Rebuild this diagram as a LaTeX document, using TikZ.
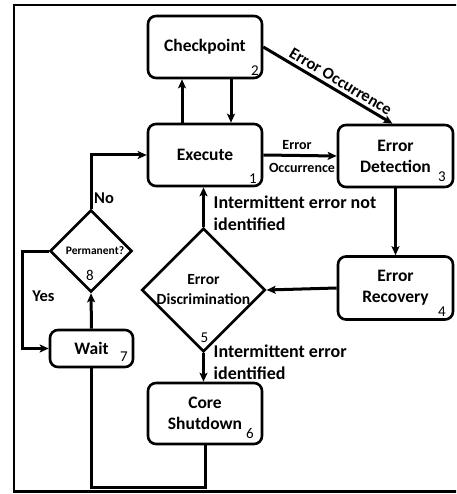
\documentclass[tikz,border=0pt]{standalone}
\usepackage{fontspec}
\setmainfont{Carlito}
\usetikzlibrary{shapes.geometric,arrows.meta,calc}
\tikzset{
  stepbox/.style={draw, line width=2.6pt, rounded corners=8pt, inner sep=0pt,
    align=center, font=\fontsize{17.5}{21}\selectfont\bfseries},
  decision/.style={draw, diamond, line width=2.6pt, inner sep=0pt, aspect=1,
    align=center},
  arr/.style={line width=3pt, -{Stealth[length=9pt,width=8pt,inset=2pt]}},
  plain/.style={line width=3pt},
  num/.style={font=\fontsize{15}{15}\selectfont, inner sep=0pt},
  lbl/.style={font=\fontsize{14}{17}\selectfont\bfseries, inner sep=0pt},
  side/.style={font=\fontsize{16.5}{21}\selectfont\bfseries, inner sep=0pt, align=left},
  note/.style={font=\fontsize{18}{21.5}\selectfont\bfseries, inner sep=0pt, align=left}
}
\begin{document}
\begin{tikzpicture}[x=1pt,y=-1pt]
\useasboundingbox (0,0) rectangle (456,494);
\clip (0,0) rectangle (456,494);
% outer frame
\draw[line width=2.2pt] (14,5) rectangle (470,491.5);

% process steps
\node[stepbox, minimum width=114pt, minimum height=62pt] (chk) at (205,47) {Checkpoint};
\node[stepbox, minimum width=114pt, minimum height=62pt] (exe) at (205,155) {Execute};
\node[stepbox, minimum width=115pt, minimum height=62pt] (det) at (395.5,156) {Error\\Detection};
\node[stepbox, minimum width=115pt, minimum height=63pt] (rec) at (395.5,288) {Error\\Recovery};
\node[stepbox, minimum width=114pt, minimum height=61pt] (shut) at (205,413.5) {Core\\Shutdown};
\node[stepbox, minimum width=83pt, minimum height=37pt] (wait) at (91.5,348.5) {Wait};

% decisions
\node[decision, minimum width=122pt, minimum height=122pt,
  font=\fontsize{15.5}{20}\selectfont\bfseries] (disc) at (203.5,290) {Error\\Discrimination};
\node[decision, minimum width=82pt, minimum height=82pt] (perm) at (91,251) {};
\node[font=\fontsize{11.5}{12}\selectfont\bfseries, inner sep=0pt] (permtxt) at (95,251) {Permanent?};

% step numbers
\node[num] (n1) at (253,179) {1};
\node[num] (n2) at (255,71) {2};
\node[num] (n3) at (442,177) {3};
\node[num] (n4) at (442,312) {4};
\node[num] (n5) at (204.5,338) {5};
\node[num] (n6) at (250,433) {6};
\node[num] (n7) at (124,357) {7};
\node[num] (n8) at (90,275) {8};

% connectors
\draw[arr] ([xshift=-23pt]exe.north) -- ([xshift=-23pt]chk.south);
\draw[arr] ([xshift=26pt]chk.south) -- ([xshift=26pt]exe.north);
\draw[arr] (chk.east) -- node[sloped, above=3pt, pos=0.56, inner sep=0pt,
  font=\fontsize{16.5}{17}\selectfont\bfseries] (eo1) {Error Occurrence} ([xshift=-3pt]det.north);
\draw[arr] (exe.east) -- (det.west);
\node[lbl] (eo2) at (297,145) {Error};
\node[lbl] (eo3) at (302,168) {Occurrence};
\draw[arr] (det.south) -- (rec.north);
\draw[arr] (rec.west) -- (disc.east);
\draw[arr] (disc.north) -- (disc.north |- exe.south);
\draw[arr] (disc.south) -- (disc.south |- shut.north);
\draw[arr] (perm.north) |- (exe.west);
\draw[arr] (perm.west) -- ++(-26,0) |- (wait.west);
\draw[arr] (wait.north) -- (perm.south);
\draw[plain] (shut.south) -- ++(0,42) -| (wait.south);

% branch labels
\node[side, anchor=center] (no) at (104,198) {No};
\node[side, anchor=center] (yes) at (43.5,296) {Yes};
\node[note, anchor=west] (ni) at (213.5,213.5) {Intermittent error not\\identified};
\node[note, anchor=west] (ii) at (213.5,362) {Intermittent error\\identified};
\end{tikzpicture}
\end{document}
